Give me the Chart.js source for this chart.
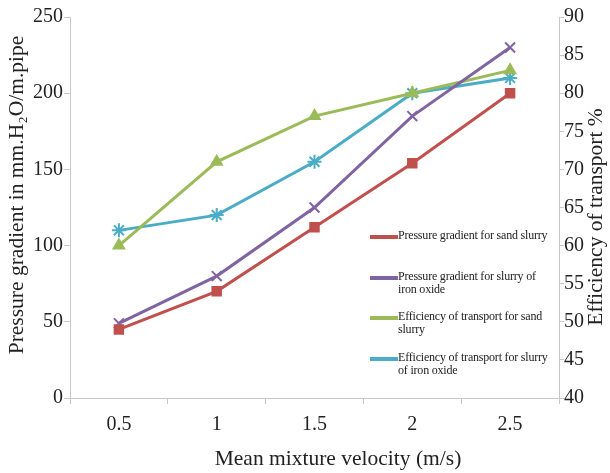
<!DOCTYPE html>
<html>
<head>
<meta charset="utf-8">
<script src="https://cdn.jsdelivr.net/npm/chart.js@4.4.1/dist/chart.umd.min.js"></script>
<style>
  body { margin: 0; background: #fff; }
  #wrap { position: relative; width: 610px; height: 473px; }
  #chart_legend {
    position: absolute; left: 370px; top: 229px; width: 190px;
    list-style: none; margin: 0; padding: 0;
    font-family: "Liberation Serif", serif; font-size: 12px; color: #222;
  }
  #chart_legend li { display: flex; align-items: flex-start; height: 40.5px; }
  .legend__line { flex: 0 0 28px; height: 4px; margin-top: 6px; }
  .legend__text { width: 158px; line-height: 13px; letter-spacing: -0.2px; }
</style>
</head>
<body>
<div id="wrap">
  <canvas id="myChart" width="610" height="473"></canvas>
  <ul id="chart_legend"></ul>
</div>
<script>
const velocities = ["0.5", "1", "1.5", "2", "2.5"];
const sandPressure = [45, 70, 112, 154, 200];
const ironPressure = [49, 80, 125, 185, 230];
const sandEfficiency = [60, 71, 77, 80, 83];
const ironEfficiency = [62, 64, 71, 80, 82];

const labels = [
  "Pressure gradient for sand slurry",
  "Pressure gradient for slurry of iron oxide",
  "Efficiency of transport for sand slurry",
  "Efficiency of transport for slurry of iron oxide",
];
const colors = ["#C0504D", "#8064A2", "#9BBB59", "#4BACC6"];

const serif = "'Liberation Serif', 'Times New Roman', serif";
const axisColor = "#c8c8c8";
const tickFont = { family: serif, size: 20 };

// axis titles drawn by hand: the originals are off-centre and the right one reads upwards
const axisTitles = {
  id: "axisTitles",
  afterDraw(chart) {
    const { ctx } = chart;
    const put = (text, x, y, rot) => {
      ctx.save();
      ctx.translate(x, y);
      ctx.rotate(rot);
      ctx.font = "21.5px " + serif;
      ctx.fillStyle = "#222";
      ctx.textAlign = "center";
      ctx.textBaseline = "middle";
      ctx.fillText(text, 0, 0);
      ctx.restore();
    };
    put("Mean mixture velocity (m/s)", 338, 459, 0);
    put("Pressure gradient in mm.H₂O/m.pipe", 17, 195, -Math.PI / 2);
    put("Efficiency of transport %", 596, 217, -Math.PI / 2);
  },
};

const ctx = document.getElementById("myChart").getContext("2d");

new Chart(ctx, {
  type: "line",
  data: {
    labels: velocities,
    datasets: [
      { label: labels[0], data: sandPressure, yAxisID: "y", pointStyle: "rect", pointRadius: 6 },
      { label: labels[1], data: ironPressure, yAxisID: "y", pointStyle: "crossRot", pointRadius: 7 },
      { label: labels[2], data: sandEfficiency, yAxisID: "y1", pointStyle: "triangle", pointRadius: 6 },
      { label: labels[3], data: ironEfficiency, yAxisID: "y1", pointStyle: "star", pointRadius: 7 },
    ].map((ds, i) => ({
      ...ds,
      borderColor: colors[i],
      backgroundColor: colors[i],
      pointBorderColor: colors[i],
      pointBackgroundColor: colors[i],
      borderWidth: 3,
      pointBorderWidth: 2,
      tension: 0,
    })),
  },
  options: {
    responsive: false,
    animation: false,
    layout: { padding: { top: 17 } },
    plugins: { legend: { display: false }, tooltip: { enabled: false } },
    scales: {
      x: {
        offset: true,
        grid: { drawOnChartArea: false, offset: true, tickLength: 6, color: axisColor },
        border: { color: axisColor },
        ticks: { font: tickFont, color: "#222", padding: 9 },
        afterFit: (s) => { s.height = 75; },
      },
      y: {
        position: "left",
        min: 0,
        max: 250,
        ticks: { stepSize: 50, font: tickFont, color: "#222", padding: 1 },
        grid: { drawOnChartArea: false, tickLength: 6, color: axisColor },
        border: { color: axisColor },
        afterFit: (s) => { s.width = 70; },
      },
      y1: {
        position: "right",
        min: 40,
        max: 90,
        ticks: { stepSize: 5, font: tickFont, color: "#222", padding: 0 },
        grid: { drawOnChartArea: false, tickLength: 5, color: axisColor },
        border: { color: axisColor },
        afterFit: (s) => { s.width = 51; },
      },
    },
  },
  plugins: [axisTitles],
});

const legendContainer = document.getElementById("chart_legend");
labels.forEach((label, index) => {
  const li = document.createElement("li");
  li.innerHTML = `<span class="legend__line" style="background-color: ${colors[index]}"></span><span class="legend__text">${label}</span>`;
  legendContainer.appendChild(li);
});
</script>
</body>
</html>
